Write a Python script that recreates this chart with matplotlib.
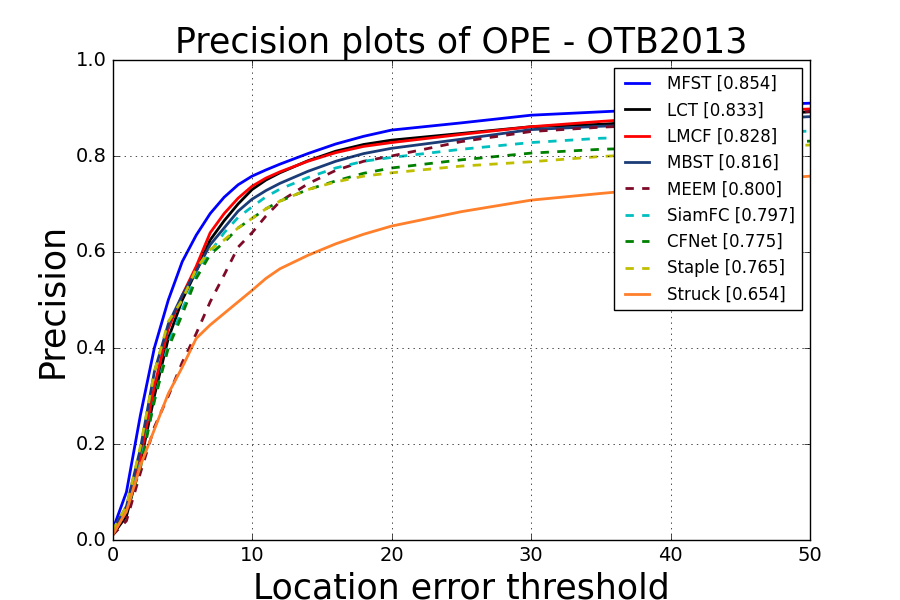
import numpy as np
import matplotlib
matplotlib.use("Agg")
import matplotlib.pyplot as plt

plt.style.use("classic")

# location error thresholds where values were read
thr = [0, 1, 2, 3, 4, 5, 6, 7, 8, 9, 10, 11, 12, 14, 16, 18, 20, 25, 30, 35, 40, 45, 50]

mfst   = [.02, .10, .26, .40, .50, .58, .635, .68, .714, .74, .758, .771, .783, .805, .825, .841, .854, .869, .885, .892, .899, .905, .91]
lct    = [.01, .05, .16, .30, .42, .50, .56, .625, .665, .70, .73, .75, .765, .79, .81, .824, .833, .847, .861, .866, .875, .884, .892]
lmcf   = [.01, .06, .17, .32, .44, .51, .57, .64, .68, .712, .737, .754, .767, .789, .807, .82, .828, .845, .861, .872, .882, .891, .898]
mbst   = [.02, .07, .19, .35, .45, .51, .56, .615, .65, .685, .71, .728, .743, .768, .789, .805, .816, .835, .855, .862, .867, .875, .882]
meem   = [.01, .04, .14, .235, .30, .37, .43, .496, .552, .61, .64, .675, .705, .742, .77, .789, .80, .83, .851, .86, .866, .88, .893]
siamfc = [.02, .06, .16, .29, .41, .48, .55, .60, .64, .672, .694, .715, .731, .755, .775, .789, .797, .814, .828, .837, .84, .846, .852]
cfnet  = [.02, .06, .15, .29, .40, .47, .545, .595, .62, .65, .67, .69, .706, .73, .748, .764, .775, .792, .806, .814, .818, .825, .831]
staple = [.02, .07, .195, .35, .455, .50, .565, .605, .625, .65, .67, .69, .706, .73, .746, .758, .765, .779, .788, .799, .806, .815, .823]
struck = [.01, .06, .155, .23, .305, .36, .42, .448, .472, .496, .52, .545, .565, .593, .617, .637, .654, .684, .708, .722, .735, .747, .758]

names = ["MFST [0.854]", "LCT [0.833]", "LMCF [0.828]", "MBST [0.816]", "MEEM [0.800]",
         "SiamFC [0.797]", "CFNet [0.775]", "Staple [0.765]", "Struck [0.654]"]
series = [mfst, lct, lmcf, mbst, meem, siamfc, cfnet, staple, struck]
colors = ["#0000ff", "#000000", "#ff0000", "#1c3c78", "#7f0a28",
          "#00bfbf", "#008000", "#bfbf00", "#ff7f2a"]
styles = ["-", "-", "-", "-", "--", "--", "--", "--", "-"]

fig = plt.figure(figsize=(9, 6), dpi=100, facecolor="white")
ax = fig.add_subplot(111)

for y, n, c, s in zip(series, names, colors, styles):
    ax.plot(thr, y, s, color=c, linewidth=2, label=n)

ax.set_xlim(0, 50)
ax.set_ylim(0, 1)
ax.grid(True)
ax.tick_params(labelsize=14)
ax.set_title("Precision plots of OPE - OTB2013", fontsize=25)
ax.set_xlabel("Location error threshold", fontsize=25)
ax.set_ylabel("Precision", fontsize=25)
ax.legend(loc="upper right", fontsize=12)

fig.savefig("out.png", dpi=100, facecolor="white")
